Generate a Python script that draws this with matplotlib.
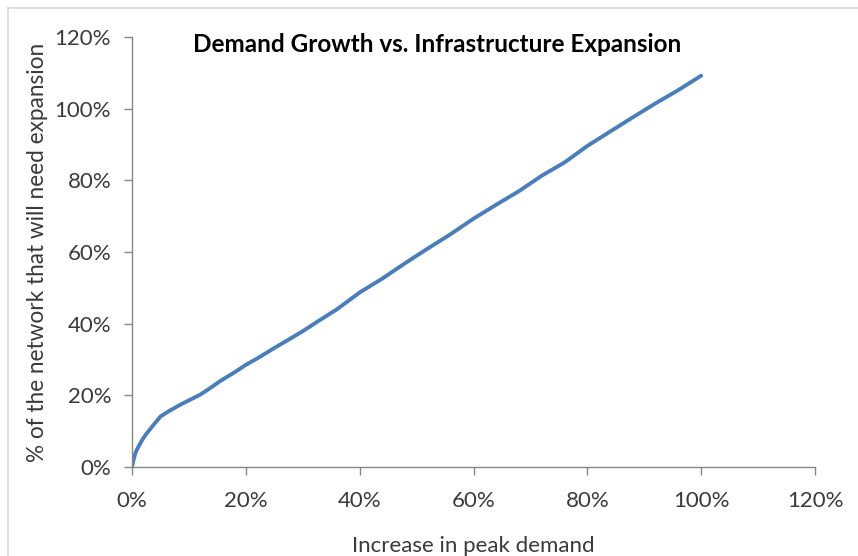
import matplotlib
matplotlib.use("Agg")
import matplotlib.pyplot as plt
from matplotlib.ticker import FuncFormatter, MultipleLocator
from matplotlib.lines import Line2D

demand_increase = [0.0, 0.3, 0.6, 1.0, 1.8, 2.5, 3.5, 5.0, 6.5, 8.5, 10.0, 12.0, 14.0, 15.5,
                   18.0, 20.0, 22.0, 25.0, 28.0, 30.0, 33.0, 36.0, 40.0, 44.0, 48.0, 52.0,
                   56.0, 60.0, 64.0, 68.0, 72.0, 76.0, 80.0, 84.0, 88.0, 92.0, 96.0, 100.0]
network_expansion = [0.0, 2.2, 3.9, 5.3, 7.6, 9.2, 11.2, 14.1, 15.6, 17.4, 18.6, 20.2, 22.3, 24.0,
                     26.4, 28.5, 30.3, 33.2, 36.0, 37.9, 41.0, 44.0, 48.7, 52.6, 56.9, 61.0,
                     65.0, 69.3, 73.2, 77.0, 81.3, 85.0, 89.6, 93.6, 97.6, 101.5, 105.2, 109.2]

title = "Demand Growth vs. Infrastructure Expansion"
xlabel = "Increase in peak demand"
ylabel = "% of the network that will need expansion"

plt.rcParams['font.family'] = ['Lato', 'DejaVu Sans']

fig = plt.figure(figsize=(8.58, 5.56), dpi=100)
W, H = 858, 556
ax = fig.add_axes([132 / W, 1 - 467 / H, (815 - 132) / W, (467 - 37) / H])

ax.plot(demand_increase, network_expansion, color='#4A7EBB', lw=2.8, solid_capstyle='round')

ax.set_xlim(0, 120)
ax.set_ylim(0, 120)
ax.xaxis.set_major_locator(MultipleLocator(20))
ax.yaxis.set_major_locator(MultipleLocator(20))
fmt = FuncFormatter(lambda v, p: f"{v:.0f}%")
ax.xaxis.set_major_formatter(fmt)
ax.yaxis.set_major_formatter(fmt)

for s in ['top', 'right']:
    ax.spines[s].set_visible(False)
for s in ['left', 'bottom']:
    ax.spines[s].set_color('#868686')
    ax.spines[s].set_linewidth(1.0)
ax.tick_params(direction='out', length=6, width=1.0, color='#868686',
               labelsize=16, labelcolor='#3a3a3a')
ax.tick_params(axis='x', pad=11)
ax.tick_params(axis='y', pad=9)

ax.set_xlabel(xlabel, fontsize=16, color='#3a3a3a', labelpad=18)
ax.set_ylabel(ylabel, fontsize=16.3, color='#3a3a3a', labelpad=5)

fig.text(437 / W, 1 - 44 / H, title, ha='center', va='center', fontsize=17.5,
         fontweight='bold', color='black')

# chart border (top and left visible)
fig.add_artist(Line2D([8 / W, 1.0], [1 - 8 / H, 1 - 8 / H], transform=fig.transFigure,
                      color='#d9d9d9', lw=1.2))
fig.add_artist(Line2D([8 / W, 8 / W], [0.0, 1 - 8 / H], transform=fig.transFigure,
                      color='#d9d9d9', lw=1.2))

fig.savefig('out.png', dpi=100)
